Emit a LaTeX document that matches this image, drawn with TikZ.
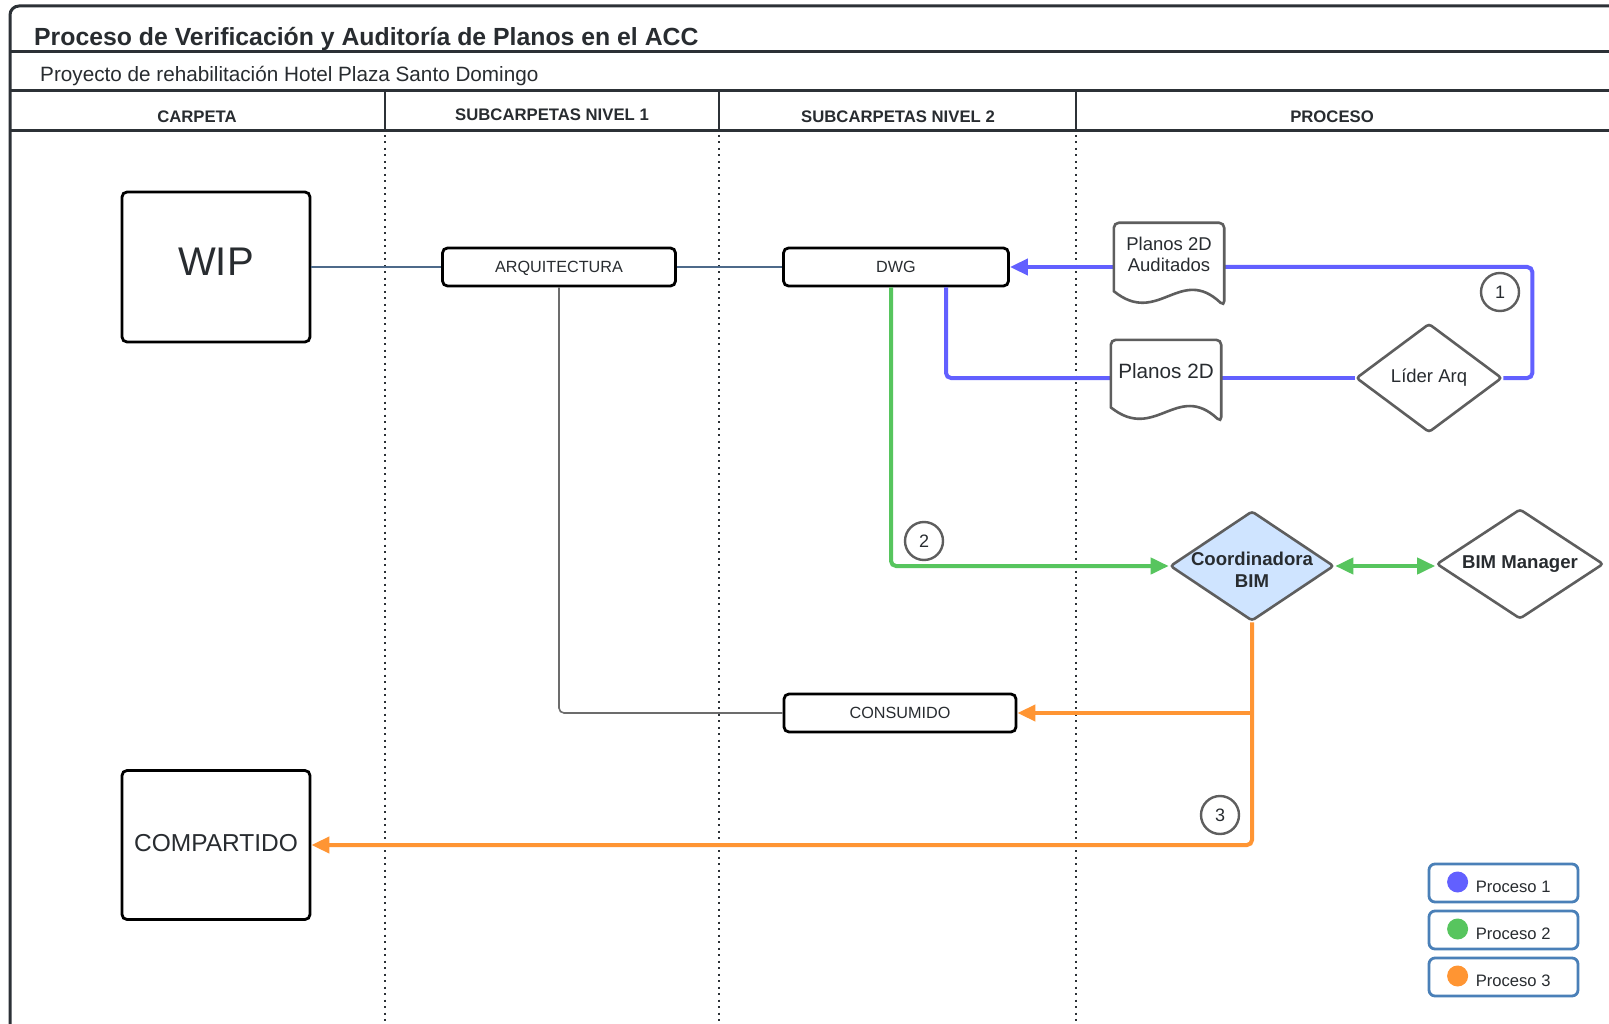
\documentclass[tikz,border=0pt]{standalone}
\usepackage{fontspec}
\setmainfont{Liberation Sans}
\usetikzlibrary{arrows.meta,shapes.geometric,calc}
\definecolor{pblue}{RGB}{98,96,255}
\definecolor{pgreen}{RGB}{87,197,94}
\definecolor{porange}{RGB}{255,149,51}
\definecolor{dgrey}{RGB}{94,94,94}
\definecolor{cfill}{RGB}{207,228,255}
\definecolor{legstroke}{RGB}{74,128,184}
\definecolor{txt}{RGB}{40,44,48}
\definecolor{framec}{RGB}{44,49,54}
\definecolor{thinblue}{RGB}{77,106,138}
\newcommand\fs[1]{\fontsize{#1pt}{1.2\dimexpr#1pt\relax}\selectfont}
\newcommand\docshape[1]{%
  \draw[docline] let \p1=(#1.south west), \p2=(#1.north east), \n1={\x2-\x1}, \n2={\y2-\y1} in
   (\x1,{\y1+0.18*\n2}) [rounded corners=5pt] -- (\x1,\y2) -- (\x2,\y2) -- (\x2,\y1) [sharp corners]
   .. controls ({\x1+0.6*\n1},{\y1+0.5*\n2}) and ({\x1+0.4*\n1},{\y1-0.25*\n2}) .. (\x1,{\y1+0.18*\n2}) -- cycle;}
\begin{document}
\begin{tikzpicture}[x=1pt,y=-1pt,
  every node/.style={text=txt},
  frameline/.style={draw=framec,line width=3pt},
  colline/.style={draw=framec,line width=2pt},
  dotline/.style={draw=framec,line width=2pt,dash pattern=on 2pt off 4.5pt},
  folder/.style={draw=black,line width=2.8pt,rounded corners=5pt,fill=white,inner sep=0pt},
  subf/.style={folder,minimum height=38pt,font=\fs{16.2},text height=11.6pt,text depth=0pt},
  docnode/.style={draw=none,inner sep=0pt},
  docline/.style={draw=dgrey,line width=2.6pt,fill=white},
  decision/.style={diamond,draw=dgrey,line width=2.6pt,fill=white,inner sep=0pt,rounded corners=3pt},
  dlabel/.style={align=center,inner sep=0pt,text=txt},
  numcirc/.style={circle,draw=dgrey,line width=2.4pt,minimum size=38pt,inner sep=0pt,font=\fs{18}},
  bluel/.style={draw=pblue,line width=4pt,rounded corners=5pt},
  greenl/.style={draw=pgreen,line width=4pt,rounded corners=5pt},
  orangel/.style={draw=porange,line width=4pt,rounded corners=5pt},
  tip/.style={-{Triangle[length=18pt,width=16pt]}},
  thinl/.style={draw=thinblue,line width=1.6pt},
  greyl/.style={draw=gray!85!black,line width=1.6pt,rounded corners=5pt},
  legbox/.style={draw=legstroke,line width=2.8pt,rounded corners=6pt,minimum width=149pt,minimum height=38pt,fill=white,inner sep=0pt},
  legtext/.style={anchor=base west,inner sep=0pt,font=\fs{16.6}},
  hdr/.style={anchor=base,inner sep=0pt,font=\bfseries\fs{16.7}}
]
\useasboundingbox (0,0) rectangle (1609,1024);
\fill[white] (0,0) rectangle (1609,1024);

% frame and header
\draw[frameline,rounded corners=9pt] (10,1040) -- (10,6) -- (1630,6);
\draw[frameline] (10,52) -- (1630,52);
\draw[frameline] (10,91) -- (1630,91);
\draw[frameline] (10,131) -- (1630,131);
\foreach \cx in {385,719,1076}{
  \draw[colline] (\cx,91) -- (\cx,131);
  \draw[dotline] (\cx,135) -- (\cx,1030);
}
\node[anchor=base west,inner sep=0pt,font=\bfseries\fs{24.8}] (title) at (34,46) {Proceso de Verificación y Auditoría de Planos en el ACC};
\node[anchor=base west,inner sep=0pt,font=\fs{20.7}] (subtitle) at (40,82) {Proyecto de rehabilitación Hotel Plaza Santo Domingo};
\node[hdr] (h1) at (197,123) {CARPETA};
\node[hdr] (h2) at (552,121) {SUBCARPETAS NIVEL 1};
\node[hdr] (h3) at (898,123) {SUBCARPETAS NIVEL 2};
\node[hdr] (h4) at (1332,123) {PROCESO};

% folders
\node[folder,minimum width=188pt,minimum height=150pt,font=\fs{40},text depth=10pt] (wip) at (216,267) {WIP};
\node[folder,minimum width=188pt,minimum height=149pt,font=\fs{24.5},text depth=5pt] (comp) at (216,845) {COMPARTIDO};
\node[subf,minimum width=233pt] (arq) at (559,267) {ARQUITECTURA};
\node[subf,minimum width=225pt] (dwg) at (896,267) {DWG};
\node[subf,minimum width=232pt] (cons) at (900,713) {CONSUMIDO};

% thin connectors
\draw[thinl] (wip.east) -- (arq.west);
\draw[thinl] (arq.east) -- (dwg.west);
\draw[greyl] (arq.south) |- (cons.west);

% process nodes
\node[docnode,minimum width=110pt,minimum height=83pt] (aud) at (1169,264.5) {};
\node[docnode,minimum width=110pt,minimum height=82pt] (p2d) at (1166,381) {};
\node[decision,minimum width=146pt,minimum height=109pt,
  label={[dlabel,font=\fs{18.5}]center:Líder Arq}] (lider) at (1429,378) {};
\node[decision,minimum width=164pt,minimum height=110pt,fill=cfill,
  label={[dlabel,font=\bfseries\fs{18.6},yshift=-4pt]center:Coordinadora\\BIM}] (coord) at (1252,566) {};
\node[decision,minimum width=167pt,minimum height=110pt,
  label={[dlabel,font=\bfseries\fs{18.6}]center:BIM Manager}] (bim) at (1520,564) {};

% process 1 (blue)
\draw[bluel] (lider.east) -- ++(29,0) |- (aud.east |- dwg.east);
\draw[bluel,tip] (aud.west |- dwg.east) -- (dwg.east);
\draw[bluel] (lider.west) -- (p2d.east |- lider.west);
\draw[bluel] (p2d.west |- lider.west) -| ($(dwg.south)+(50,0)$);
\docshape{aud}
\docshape{p2d}
\node[font=\fs{18.5},align=center,inner sep=0pt] (audt) at ($(aud)+(0,-10)$) {Planos 2D\\[-1pt]Auditados};
\node[font=\fs{20.7},inner sep=0pt] (p2dt) at ($(p2d)+(0,-10)$) {Planos 2D};

% process 2 (green)
\draw[greenl,tip] ($(dwg.south)+(-5,0)$) |- (coord.west);
\draw[greenl,{Triangle[length=18pt,width=16pt]}-{Triangle[length=18pt,width=16pt]}] (coord.east) -- (bim.west |- coord.east);

% process 3 (orange)
\draw[orangel,tip] (coord.south) |- (comp.east);
\draw[orangel,tip] (coord.south |- cons.east) -- (cons.east);

% numbers
\node[numcirc] (n1) at (1500,292) {1};
\node[numcirc] (n2) at (924,541) {2};
\node[numcirc] (n3) at (1220,815) {3};

% legend
\foreach \i/\c/\yy in {1/pblue/883,2/pgreen/930,3/porange/977}{
  \node[legbox] (leg\i) at (1503.5,\yy) {};
  \fill[\c] ($(leg\i.west)+(30,-1)$) circle (10.5pt);
  \node[legtext] (legt\i) at ($(leg\i.west)+(48,9)$) {Proceso \i};
}
\end{tikzpicture}
\end{document}
